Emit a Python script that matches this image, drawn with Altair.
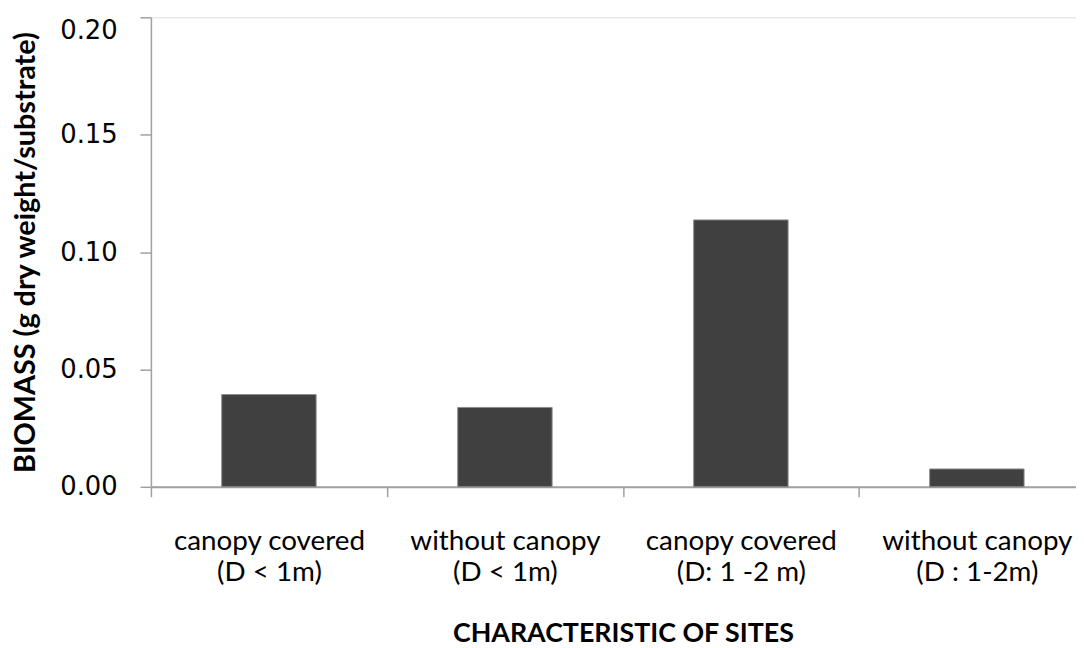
import altair as alt
import pandas as pd

sites = [
    "canopy covered|(D < 1m)",
    "without canopy|(D < 1m)",
    "canopy covered|(D: 1 -2 m)",
    "without  canopy|(D : 1-2m)",
]
biomass = [0.0393, 0.0338, 0.1137, 0.0076]
y_ticks = [0.0, 0.05, 0.10, 0.15, 0.20]

df = pd.DataFrame({"site": sites, "biomass": biomass})

chart = (
    alt.Chart(df)
    .mark_bar(color="#404040", stroke="#8a8a8a", strokeWidth=1, width={"band": 0.4})
    .encode(
        x=alt.X(
            "site:N",
            sort=sites,
            scale=alt.Scale(range=[0, 951], paddingInner=0, paddingOuter=0),
            axis=alt.Axis(
                title="CHARACTERISTIC OF SITES",
                titleFont="Lato",
                titleFontSize=27,
                titleFontWeight="bold",
                titleColor="#000000",
                titlePadding=35,
                labelExpr="split(datum.label, '|')",
                labelFont="Lato",
                labelFontSize=28,
                labelColor="#000000",
                labelLineHeight=31,
                labelLimit=400,
                labelAngle=0,
                labelPadding=31,
                tickBand="extent",
                tickSize=10,
                tickColor="#a0a0a0",
                domainColor="#a0a0a0",
                domainWidth=2,
                tickWidth=1.5,
                grid=False,
            ),
        ),
        y=alt.Y(
            "biomass:Q",
            scale=alt.Scale(domain=[0, 0.2], nice=False, zero=True),
            axis=alt.Axis(
                title="BIOMASS (g dry weight/substrate)",
                titleFont="Lato",
                titleFontSize=29,
                titleFontWeight="bold",
                titleColor="#000000",
                titlePadding=19,
                titleLimit=600,
                values=y_ticks,
                format=".2f",
                labelFont="DejaVu Sans",
                labelFontSize=26,
                labelColor="#000000",
                labelPadding=23,
                labelBaseline={"condition": {"test": "datum.value >= 0.2", "value": "top"}, "value": "middle"},
                tickSize=11,
                tickColor="#a0a0a0",
                domainColor="#a0a0a0",
                domainWidth=1.5,
                tickWidth=1.5,
                grid=False,
            ),
        ),
    )
    .properties(
        width=932,
        height=473,
        autosize=alt.AutoSizeParams(type="none"),
        padding={"left": 144, "top": 7, "right": 0, "bottom": 160},
    )
    .configure_view(stroke=None)
    .configure(background="#ffffff")
)

chart.save("out.html", embed_options={"renderer": "svg", "actions": False})
